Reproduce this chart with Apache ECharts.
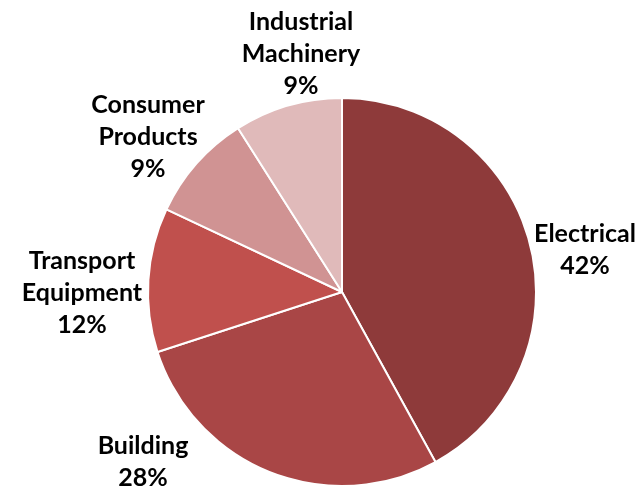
<!DOCTYPE html>
<html>
<head>
<meta charset="utf-8">
<script src="https://cdn.jsdelivr.net/npm/echarts@6/dist/echarts.min.js"></script>
<style>
  html, body { margin: 0; padding: 0; background: #ffffff; }
  #chart { width: 643px; height: 489px; }
</style>
</head>
<body>
<div id="chart"></div>
<script>
// Market share by end-use sector (percent)
const categories = ['Electrical', 'Building', 'Transport\nEquipment', 'Consumer\nProducts', 'Industrial\nMachinery'];
const shares = [42, 28, 12, 9, 9];
const colors = ['#8E3A3A', '#A94646', '#C0504D', '#D09393', '#E0BABA'];

// Pie geometry and where each label block sits, relative to the pie centre
const pieCenter = [342, 292];
const pieRadius = 194;
const labelOffsets = [[243, -42], [-199, 170], [-260, 1], [-194, -155], [-41, -238]];

const chart = echarts.init(document.getElementById('chart'), null, { renderer: 'canvas' });

chart.setOption({
  backgroundColor: '#ffffff',
  animation: false,
  series: [{
    type: 'pie',
    center: pieCenter,
    radius: pieRadius,
    startAngle: 90,
    clockwise: true,
    percentPrecision: 0,
    data: categories.map((name, i) => ({
      name: name,
      value: shares[i],
      itemStyle: { color: colors[i] }
    })),
    itemStyle: { borderColor: '#ffffff', borderWidth: 2 },
    label: {
      show: true,
      position: 'inside',
      formatter: '{b}\n{d}%',
      fontFamily: 'Lato',
      fontWeight: 'bold',
      fontSize: 25,
      lineHeight: 32,
      color: '#000000',
      align: 'center',
      overflow: 'none'
    },
    labelLine: { show: false },
    labelLayout: function (params) {
      const off = labelOffsets[params.dataIndex];
      return {
        x: pieCenter[0] + off[0],
        y: pieCenter[1] + off[1],
        align: 'center',
        verticalAlign: 'middle'
      };
    }
  }]
});
</script>
</body>
</html>
